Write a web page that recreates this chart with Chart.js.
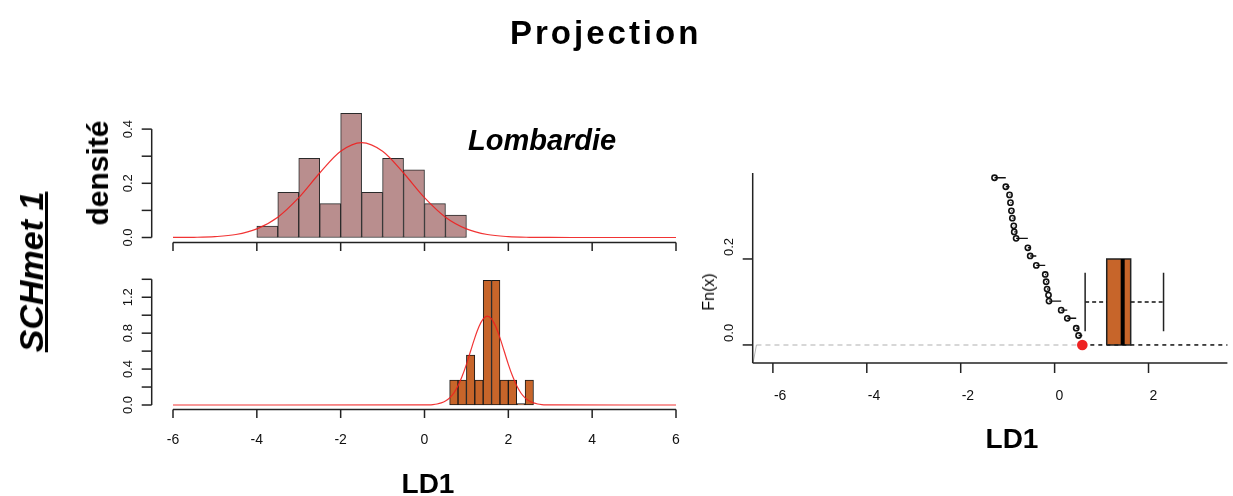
<!DOCTYPE html>
<html><head><meta charset="utf-8">
<script src="https://cdn.jsdelivr.net/npm/chart.js@4.4.1/dist/chart.umd.min.js"></script>
<style>
html,body{margin:0;padding:0;background:#fff;}
body{width:1233px;height:496px;position:relative;overflow:hidden;font-family:"Liberation Sans",Arial,Helvetica,sans-serif;}
canvas{position:absolute;left:0;top:0;}
.t{position:absolute;white-space:nowrap;line-height:1;color:#000;}
.rot{transform:translate(-50%,-50%) rotate(-90deg);}
.cx{transform:translateX(-50%);}
</style></head><body>
<canvas id="c1" width="1233" height="496"></canvas>
<canvas id="c2" width="1233" height="496"></canvas>
<canvas id="c3" width="1233" height="496"></canvas>
<div class="t" style="left:510px;top:16px;font-size:33px;font-weight:bold;letter-spacing:3px;">Projection</div>
<div class="t rot" style="left:30.6px;top:271.5px;font-size:34px;font-weight:bold;font-style:italic;text-decoration:underline;">SCHmet 1</div>
<div class="t rot" style="left:97.6px;top:173px;font-size:30px;font-weight:bold;">densité</div>
<div class="t" style="left:468px;top:125.5px;font-size:29px;font-weight:bold;font-style:italic;">Lombardie</div>
<div class="t cx" style="left:428px;top:470px;font-size:28px;font-weight:bold;">LD1</div>
<div class="t cx" style="left:1012px;top:425.3px;font-size:28px;font-weight:bold;">LD1</div>
<div class="t rot" style="left:709px;top:291.7px;font-size:16px;">Fn(x)</div>
<script>
// ---------------- data ----------------
const topBinCenters = [-3.75,-3.25,-2.75,-2.25,-1.75,-1.25,-0.75,-0.25,0.25,0.75];
const topDensity    = [0.042,0.167,0.292,0.125,0.458,0.167,0.292,0.250,0.125,0.083];
const topCurveX = [-6,-5.5,-5,-4.5,-4,-3.5,-3,-2.5,-2,-1.5,-1,-0.5,0,0.5,1,1.5,2,2.5,3,3.5,4,6];
const topCurveY = [0.0001,0.0007,0.0032,0.011,0.032,0.075,0.147,0.238,0.318,0.350,0.318,0.238,0.147,0.075,0.032,0.011,0.0032,0.0007,0.0001,0,0,0];

const botBinCenters = [0.7,0.9,1.1,1.3,1.5,1.7,1.9,2.1,2.3,2.5];
const botDensity    = [0.278,0.278,0.556,0.278,1.389,1.389,0.278,0.278,0,0.278];
const botCurveX = [-6,0,0.1,0.2,0.3,0.4,0.5,0.6,0.7,0.8,0.9,1.0,1.1,1.2,1.3,1.4,1.5,1.6,1.7,1.8,1.9,2.0,2.1,2.2,2.3,2.4,2.5,2.6,2.7,2.8,2.9,3.0,6];
const botCurveY = [0,0.001,0.002,0.005,0.011,0.023,0.044,0.079,0.134,0.214,0.322,0.453,0.601,0.747,0.873,0.959,0.990,0.959,0.873,0.747,0.601,0.453,0.322,0.214,0.134,0.079,0.044,0.023,0.011,0.005,0.002,0.001,0];

const leftXTicks = [-6,-4,-2,0,2,4,6];
const leftXTickLabels = ['-6','-4','-2','0','2','4','6'];
const topYTicks = [0,0.1,0.2,0.3,0.4];
const topYTickLabels = ['0.0','','0.2','','0.4'];
const botYTicks = [0,0.2,0.4,0.6,0.8,1.0,1.2,1.4];
const botYTickLabels = ['0.0','','0.4','','0.8','','1.2',''];

const ecdfX = [-1.28,-1.04,-0.96,-0.94,-0.92,-0.90,-0.87,-0.86,-0.82,-0.57,-0.52,-0.39,-0.20,-0.18,-0.16,-0.13,-0.12,0.14,0.27,0.46,0.51];
const ecdfY = [0.389,0.368,0.349,0.331,0.312,0.295,0.277,0.263,0.248,0.226,0.207,0.185,0.164,0.147,0.130,0.116,0.102,0.081,0.062,0.039,0.022];
const redPointX = [0.59];
const redPointY = [0];
const grayStartX = [-6.42,-6.35];
const grayStartY = [-0.041,0];
const boxStats = [0.65,1.11,1.45,1.62,2.32];   // whisker low, Q1, median, Q3, whisker high
const boxLevels = [0,0.1,0.2];                 // box bottom, whisker level, box top
const capSpan = [0.032,0.168];
const rightXTicks = [-6,-4,-2,0,2];
const rightXTickLabels = ['-6','-4','-2','0','2'];
const rightYTicks = [0,0.2];
const rightYTickLabels = ['0.0','0.2'];

// ---------------- helpers ----------------
const W = 1233, H = 496;
const FONT = '"Liberation Sans", Arial, Helvetica, sans-serif';
const pts = (xs, ys) => xs.map((x,i)=>({x:x, y:ys[i]}));

const rAxes = {
  id: 'rAxes',
  afterDraw(chart, args, o) {
    const ctx = chart.ctx, xs = chart.scales.x, ys = chart.scales.y, ca = chart.chartArea;
    ctx.save();
    ctx.strokeStyle = '#222'; ctx.fillStyle = '#111'; ctx.lineWidth = 1.5; ctx.lineCap = 'butt';
    const ax = o.x;
    if (ax) {
      const x0 = ax.full ? ca.left : xs.getPixelForValue(ax.ticks[0]);
      const x1 = ax.full ? ca.right : xs.getPixelForValue(ax.ticks[ax.ticks.length-1]);
      ctx.beginPath(); ctx.moveTo(x0, ax.pos); ctx.lineTo(x1, ax.pos); ctx.stroke();
      ctx.font = ax.font + ' ' + FONT; ctx.textBaseline = 'middle'; ctx.textAlign = ax.align;
      ax.ticks.forEach((v,i)=>{
        const px = xs.getPixelForValue(v);
        ctx.beginPath(); ctx.moveTo(px, ax.pos); ctx.lineTo(px, ax.pos + ax.tickLen); ctx.stroke();
        if (ax.labels && ax.labels[i]) ctx.fillText(ax.labels[i], px + (ax.dx||0), ax.labelPos);
      });
    }
    const ay = o.y;
    if (ay) {
      const y0 = ay.full ? ca.bottom : ys.getPixelForValue(ay.ticks[0]);
      const y1 = ay.full ? ca.top : ys.getPixelForValue(ay.ticks[ay.ticks.length-1]);
      ctx.beginPath(); ctx.moveTo(ay.pos, y0); ctx.lineTo(ay.pos, y1); ctx.stroke();
      ctx.font = ay.font + ' ' + FONT; ctx.textBaseline = 'alphabetic'; ctx.textAlign = ay.align;
      ay.ticks.forEach((v,i)=>{
        const py = ys.getPixelForValue(v);
        ctx.beginPath(); ctx.moveTo(ay.pos, py); ctx.lineTo(ay.pos - ay.tickLen, py); ctx.stroke();
        if (ay.labels && ay.labels[i]) {
          ctx.save(); ctx.translate(ay.labelPos, py + (ay.dy||0)); ctx.rotate(-Math.PI/2);
          ctx.fillText(ay.labels[i], 0, 0); ctx.restore();
        }
      });
    }
    ctx.restore();
  }
};

function makeChart(id, area, xr, yr, datasets, axes) {
  return new Chart(document.getElementById(id), {
    type: 'line',
    data: { datasets: datasets },
    options: {
      responsive: false, animation: false, devicePixelRatio: 1,
      layout: { padding: { left: area[0], top: area[2], right: W - area[1], bottom: H - area[3] } },
      scales: {
        x: { type: 'linear', min: xr[0], max: xr[1], offset: false, display: false, ticks: { stepSize: 2 } },
        y: { type: 'linear', min: yr[0], max: yr[1], offset: false, display: false }
      },
      plugins: { legend: { display: false }, tooltip: { enabled: false }, rAxes: axes },
      elements: { point: { radius: 0 } }
    },
    plugins: [rAxes]
  });
}

const redLine = { borderColor: 'rgba(240,30,30,0.9)', borderWidth: 1.2, pointRadius: 0, fill: false, cubicInterpolationMode: 'monotone', clip: false, order: 0 };

// ---------------- top-left histogram ----------------
makeChart('c1', [173, 676, 102, 237.5], [-6, 6], [0, 0.5], [
  { type: 'bar', data: pts(topBinCenters, topDensity), backgroundColor: '#B98E8E', borderColor: '#2a2a2a', borderWidth: 1,
    borderSkipped: false, barPercentage: 1, categoryPercentage: 1, clip: false, order: 1 },
  Object.assign({ type: 'line', data: pts(topCurveX, topCurveY) }, redLine)
], {
  x: { pos: 242.5, ticks: leftXTicks, labels: null, tickLen: 8.5, font: '14px', align: 'center' },
  y: { pos: 151.7, ticks: topYTicks, labels: topYTickLabels, tickLen: 10, labelPos: 131.5, font: '13px', align: 'center' }
});

// ---------------- bottom-left histogram ----------------
makeChart('c2', [173, 676, 274.8, 405], [-6, 6], [0, 1.45], [
  { type: 'bar', data: pts(botBinCenters, botDensity), backgroundColor: '#C7652A', borderColor: '#1a1a1a', borderWidth: 1,
    borderSkipped: false, barPercentage: 1, categoryPercentage: 1, minBarLength: 1.5, clip: false, order: 1 },
  Object.assign({ type: 'line', data: pts(botCurveX, botCurveY) }, redLine)
], {
  x: { pos: 409.5, ticks: leftXTicks, labels: leftXTickLabels, tickLen: 8.5, labelPos: 440, font: '14px', align: 'center' },
  y: { pos: 151.7, ticks: botYTicks, labels: botYTickLabels, tickLen: 10, labelPos: 131.5, font: '13px', align: 'center' }
});

// ---------------- right panel: ECDF + boxplot ----------------
const xRangeR = [-6.43, 3.68];
const stepsX = ecdfX.concat(redPointX);
const ecdfSegs = [];
ecdfX.forEach((x,i)=>{
  ecdfSegs.push({x: x, y: ecdfY[i]}, {x: stepsX[i+1], y: ecdfY[i]}, {x: stepsX[i+1], y: null});
});
const [wLo, q1, med, q3, wHi] = boxStats;
const [bBot, wLev, bTop] = boxLevels;
const common = { pointRadius: 0, fill: false, tension: 0, clip: false };

makeChart('c3', [752.7, 1233, 173, 363], xRangeR, [-0.042, 0.4], [
  Object.assign({ type: 'line', data: pts(grayStartX, grayStartY), borderColor: '#b5b5b5', borderWidth: 1, order: 11 }, common),
  Object.assign({ type: 'line', data: [{x: grayStartX[1], y: 0}, {x: redPointX[0], y: 0}], borderColor: '#b0b0b0', borderWidth: 1.1, borderDash: [5,4], order: 10 }, common),
  Object.assign({ type: 'line', data: [{x:q1,y:bBot},{x:q1,y:bTop},{x:q3,y:bTop},{x:q3,y:bBot}], borderColor: 'rgba(0,0,0,0)', borderWidth: 0, order: 9 }, common, { fill: 'origin', backgroundColor: '#C7652A' }),
  Object.assign({ type: 'line', data: [{x: redPointX[0], y: 0}, {x: xRangeR[1], y: 0}], borderColor: '#111', borderWidth: 1.5, borderDash: [4,4], order: 8 }, common),
  Object.assign({ type: 'line', data: [{x:q1,y:bBot},{x:q1,y:bTop},{x:q3,y:bTop},{x:q3,y:bBot},{x:q1,y:bBot}], borderColor: '#222', borderWidth: 1.5, order: 7 }, common),
  Object.assign({ type: 'line', data: [{x:wLo,y:wLev},{x:q1,y:wLev},{x:q1,y:null},{x:q3,y:wLev},{x:wHi,y:wLev}], borderColor: '#111', borderWidth: 1.5, borderDash: [4,3], order: 6 }, common),
  Object.assign({ type: 'line', data: [{x:wLo,y:capSpan[0]},{x:wLo,y:capSpan[1]},{x:wLo,y:null},{x:wHi,y:capSpan[0]},{x:wHi,y:capSpan[1]}], borderColor: '#222', borderWidth: 1.5, order: 5 }, common),
  Object.assign({ type: 'line', data: [{x:med,y:bBot},{x:med,y:bTop}], borderColor: '#000', borderWidth: 4, order: 4 }, common),
  Object.assign({ type: 'line', data: ecdfSegs, borderColor: '#111', borderWidth: 1.4, order: 3 }, common),
  { type: 'scatter', data: pts(ecdfX, ecdfY), pointStyle: 'circle', pointRadius: 2.6, pointBorderWidth: 1.6,
    pointBorderColor: '#111', pointBackgroundColor: 'rgba(255,255,255,0)', showLine: false, clip: false, order: 2 },
  { type: 'scatter', data: pts(redPointX, redPointY), pointStyle: 'circle', pointRadius: 5.3, pointBorderWidth: 0,
    pointBorderColor: '#EE2222', pointBackgroundColor: '#EE2222', showLine: false, clip: false, order: 1 }
], {
  x: { full: true, pos: 363, ticks: rightXTicks, labels: rightXTickLabels, tickLen: 10, labelPos: 396.5, font: '14px', align: 'left', dx: 1 },
  y: { full: true, pos: 752.7, ticks: rightYTicks, labels: rightYTickLabels, tickLen: 10, labelPos: 733, font: '13px', align: 'left', dy: -3 }
});
</script>
</body></html>
